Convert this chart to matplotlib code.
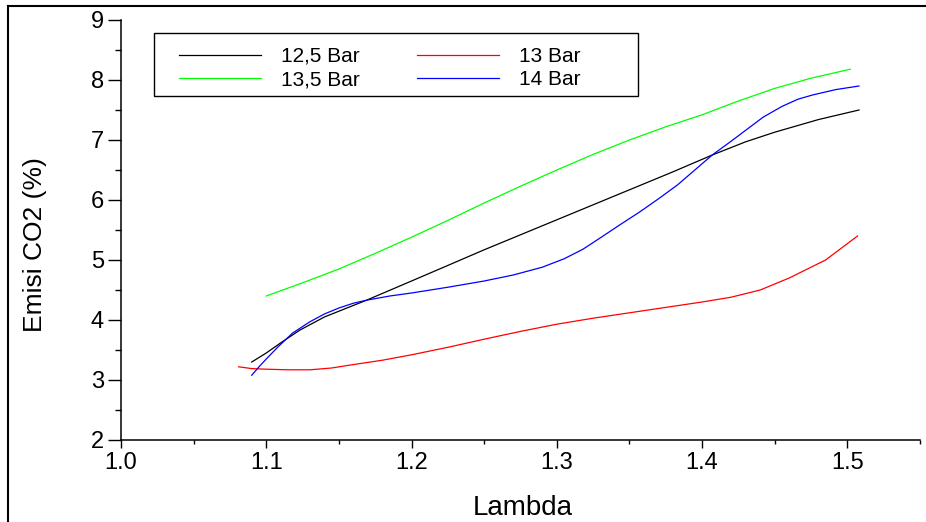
import matplotlib
matplotlib.use("Agg")
import matplotlib.pyplot as plt
from matplotlib.lines import Line2D
from matplotlib.patches import Rectangle
from matplotlib.ticker import MultipleLocator

plt.rcParams['font.family'] = ['Liberation Sans', 'DejaVu Sans']

# ---- data ----
x_125 = [1.090, 1.100, 1.110, 1.123, 1.140, 1.169, 1.200, 1.226, 1.250, 1.300, 1.350, 1.380, 1.407,
         1.430, 1.450, 1.480, 1.508]
y_125 = [3.30, 3.45, 3.62, 3.83, 4.05, 4.33, 4.65, 4.92, 5.17, 5.67, 6.17, 6.47, 6.75,
         6.97, 7.13, 7.34, 7.50]

x_13 = [1.081, 1.090, 1.100, 1.115, 1.130, 1.145, 1.158, 1.180, 1.200, 1.226, 1.250, 1.275, 1.300,
        1.325, 1.350, 1.375, 1.400, 1.420, 1.440, 1.460, 1.485, 1.507]
y_13 = [3.22, 3.19, 3.18, 3.17, 3.17, 3.20, 3.25, 3.33, 3.42, 3.55, 3.68, 3.81, 3.93,
        4.03, 4.12, 4.21, 4.30, 4.38, 4.50, 4.70, 5.00, 5.40]

x_135 = [1.100, 1.125, 1.150, 1.175, 1.200, 1.225, 1.250, 1.275, 1.300, 1.325, 1.350, 1.375, 1.400,
         1.425, 1.450, 1.475, 1.502]
y_135 = [4.40, 4.62, 4.85, 5.11, 5.38, 5.66, 5.95, 6.23, 6.50, 6.76, 7.00, 7.22, 7.42,
         7.65, 7.86, 8.03, 8.18]

x_14 = [1.090, 1.095, 1.100, 1.108, 1.118, 1.130, 1.140, 1.150, 1.160, 1.169, 1.185, 1.200, 1.226,
        1.250, 1.270, 1.290, 1.305, 1.318, 1.330, 1.343, 1.357, 1.370, 1.383, 1.395, 1.407, 1.420,
        1.431, 1.442, 1.455, 1.466, 1.476, 1.492, 1.508]
y_14 = [3.08, 3.22, 3.35, 3.55, 3.78, 3.97, 4.10, 4.20, 4.28, 4.33, 4.40, 4.45, 4.55,
        4.65, 4.75, 4.88, 5.02, 5.18, 5.37, 5.58, 5.80, 6.02, 6.25, 6.50, 6.75, 6.98,
        7.18, 7.38, 7.56, 7.68, 7.75, 7.84, 7.90]

labels = ["12,5 Bar", "13 Bar", "13,5 Bar", "14 Bar"]
colors = ["#000000", "#ff0000", "#00ff00", "#0000ff"]

xticks = [1.0, 1.1, 1.2, 1.3, 1.4, 1.5]
xtick_labels = ["1.0", "1.1", "1.2", "1.3", "1.4", "1.5"]
yticks = [2, 3, 4, 5, 6, 7, 8, 9]

W, H = 926, 522
fig = plt.figure(figsize=(W / 100, H / 100), dpi=100)
ax = fig.add_axes([121 / W, 1 - 440 / H, (920 - 121) / W, (440 - 20) / H])

series = [(x_125, y_125), (x_13, y_13), (x_135, y_135), (x_14, y_14)]
handles = []
for (xs, ys), lab, c in zip(series, labels, colors):
    h, = ax.plot(xs, ys, color=c, lw=0.9, label=lab, solid_joinstyle='round')
    handles.append(h)

ax.set_xlim(1.0, 1.55)
ax.set_ylim(2, 9)
ax.set_xticks(xticks)
ax.set_xticklabels(xtick_labels)
ax.set_yticks(yticks)
ax.xaxis.set_minor_locator(MultipleLocator(0.05))
ax.yaxis.set_minor_locator(MultipleLocator(0.5))

for s in ["top", "right"]:
    ax.spines[s].set_visible(False)
for s in ["left", "bottom"]:
    ax.spines[s].set_linewidth(1.1)

ax.tick_params(axis='y', which='major', length=9.4, width=1.0, pad=3.0, labelsize=17)
ax.tick_params(axis='y', which='minor', length=4.3, width=1.0)
ax.tick_params(axis='x', which='major', length=5.8, width=1.0, pad=3.0, labelsize=17)
ax.tick_params(axis='x', which='minor', length=2.9, width=1.0)

# legend (entries ordered so the two columns read row-wise as in the reference)
order = [0, 2, 1, 3]
fs = 15
emp = fs * 100 / 72
ax_w, ax_h = 920 - 121, 420
leg = ax.legend([handles[i] for i in order], [labels[i] for i in order],
                ncol=2, loc='upper left',
                bbox_to_anchor=((179 - 121) / ax_w, (440 - 47) / ax_h),
                fontsize=fs, frameon=False,
                handlelength=82 / emp, handletextpad=20 / emp, columnspacing=57 / emp,
                borderpad=0, labelspacing=0.2, borderaxespad=0)
ax.add_patch(Rectangle(((154 - 121) / ax_w, (440 - 96) / ax_h), (638 - 154) / ax_w, (96 - 33) / ax_h,
                       transform=ax.transAxes, fill=False, edgecolor='black', lw=1.0, zorder=5))

fig.text(523 / W, 1 - 515 / H, "Lambda", ha='center', va='baseline', fontsize=20)
fig.text(35 / W, 1 - 245 / H, "Emisi CO2 (%)", ha='center', va='center', rotation=90, fontsize=19)

# outer frame (left and top edges visible)
fig.add_artist(Line2D([8 / W, 8 / W], [0, 1 - 6 / H], transform=fig.transFigure, color='black', lw=1.5))
fig.add_artist(Line2D([8 / W, 1], [1 - 6 / H, 1 - 6 / H], transform=fig.transFigure, color='black', lw=1.5))

fig.savefig("out.png", dpi=100)
